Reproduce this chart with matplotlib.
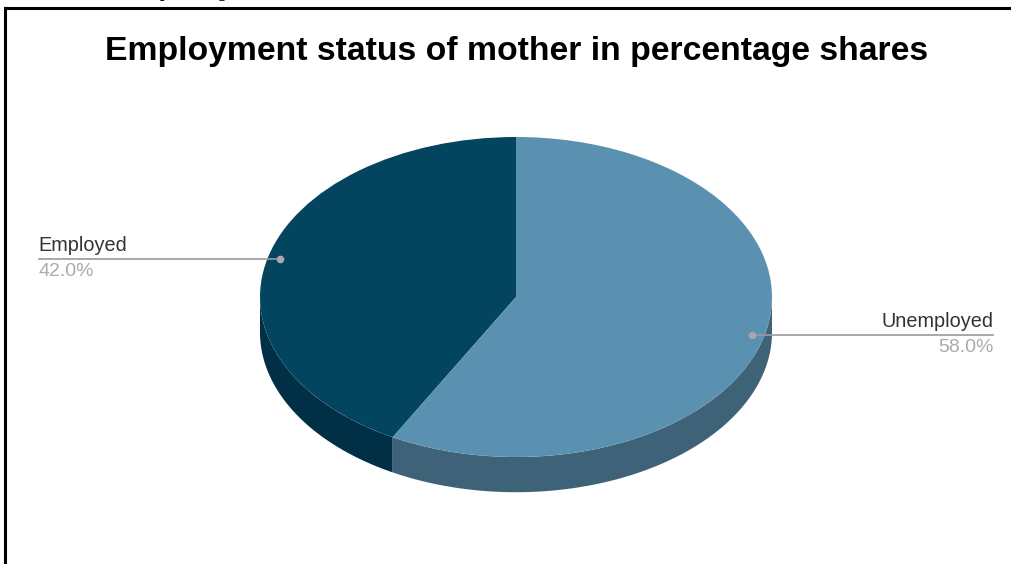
import numpy as np
import matplotlib.pyplot as plt
from matplotlib.lines import Line2D

labels = ["Employed", "Unemployed"]
shares = [42.0, 58.0]
top_colors = ["#03445f", "#5a91b0"]
side_colors = ["#002f46", "#3e6379"]

depth = 0.22  # thickness of the pie, in y units of the top face

fig = plt.figure(figsize=(10.12, 5.64), dpi=100)
fig.patch.set_facecolor("white")

# axes sized so that a unit circle is drawn as a flattened ellipse
ax = fig.add_axes([247.2 / 1012, 51 / 564, 537.6 / 1012, 384 / 564])

# side walls of the front half, drawn first so the top face covers them
start = 90.0
for share, color in zip(shares, side_colors):
    end = start + share / 100 * 360
    seg_lo = max(start, 180.0)
    seg_hi = min(end, 360.0)
    if seg_hi > seg_lo:
        t = np.radians(np.linspace(seg_lo, seg_hi, 200))
        xs = np.concatenate([np.cos(t), np.cos(t[::-1])])
        ys = np.concatenate([np.sin(t), np.sin(t[::-1]) - depth])
        ax.fill(xs, ys, color=color, lw=0)
    start = end

wedges, _ = ax.pie(shares, colors=top_colors, startangle=90, counterclock=True,
                   radius=1, wedgeprops=dict(linewidth=0))

ax.set_aspect("auto")
ax.set_xlim(-1.05, 1.05)
ax.set_ylim(-1.35, 1.05)
ax.axis("off")

# leader lines and labels
start = 90.0
for label, share in zip(labels, shares):
    mid = np.radians(start + share / 100 * 180)
    px, py = 0.95 * np.cos(mid), 0.95 * np.sin(mid)
    side = -1 if np.cos(mid) < 0 else 1
    end_x = 1.865 * side
    ha = "left" if side < 0 else "right"
    ax.plot([px, end_x], [py, py], color="#9a9a9a", lw=1.2, clip_on=False)
    ax.plot(px, py, "o", color="#a8a8a8", ms=4.5, clip_on=False)
    ax.text(end_x, py + 0.025, label, ha=ha, va="bottom", fontsize=14.3,
            color="#333333", family="Liberation Sans", clip_on=False)
    ax.text(end_x, py - 0.025, f"{share:.1f}%", ha=ha, va="top", fontsize=14,
            color="#ababab", family="Liberation Sans", clip_on=False)
    start += share / 100 * 360

fig.text(0.5104, (564 - 60) / 564, "Employment status of mother in percentage shares",
         ha="center", va="baseline", fontsize=24.3, fontweight="bold",
         family="Liberation Sans", color="black")

# caption line above the frame, only its descenders fall inside
fig.text(160 / 1012, 1 + 3 / 564, "percentage", ha="left", va="baseline",
         fontsize=11.5, fontweight="bold", family="Liberation Serif", color="black")

# frame lines on the left and top
fig.add_artist(Line2D([5 / 1012, 1.0], [1 - 8 / 564, 1 - 8 / 564],
                      transform=fig.transFigure, color="black", lw=2.2))
fig.add_artist(Line2D([5 / 1012, 5 / 1012], [0, 1 - 8 / 564],
                      transform=fig.transFigure, color="black", lw=2.2))

fig.savefig("out.png", dpi=100)
